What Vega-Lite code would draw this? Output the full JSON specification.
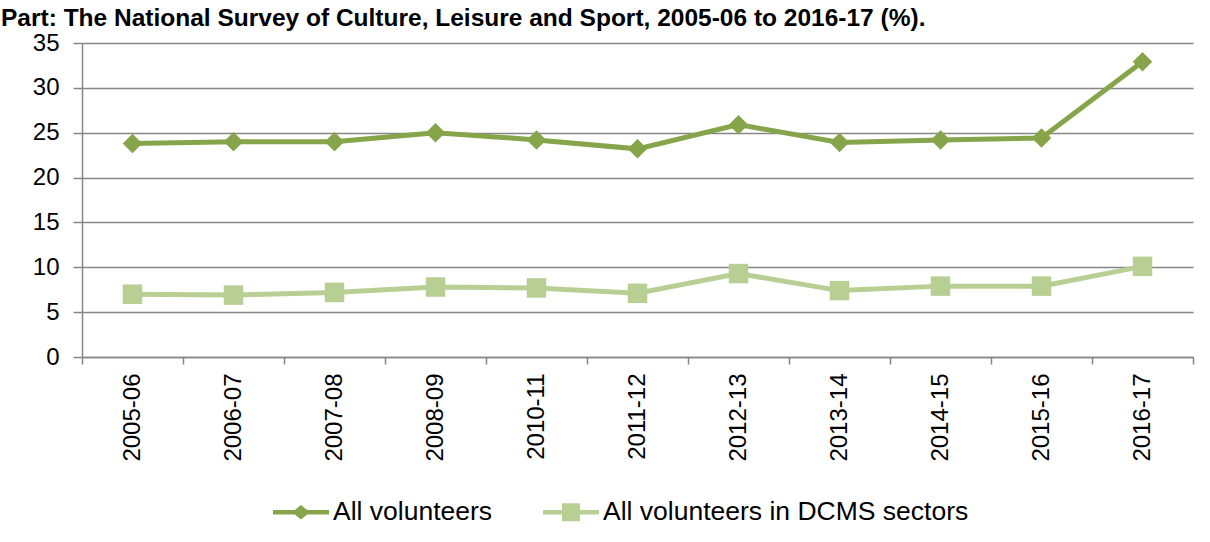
{
  "$schema": "https://vega.github.io/schema/vega-lite/v6.json",
  "width": 1111,
  "height": 314,
  "autosize": {"type": "none"},
  "padding": {"left": 82, "top": 43, "right": 17, "bottom": 185},
  "background": "white",
  "config": {"font": "Liberation Sans", "view": {"stroke": null}},
  "title": {
    "text": "Part: The National Survey of Culture, Leisure and Sport, 2005-06 to 2016-17 (%).",
    "anchor": "start",
    "frame": "group",
    "font": "Liberation Sans",
    "fontSize": 24.5,
    "fontWeight": "bold",
    "color": "black",
    "baseline": "alphabetic",
    "offset": 0,
    "dx": -81,
    "dy": 19
  },
  "data": {
    "values": [
      {"year": "2005-06", "series": "All volunteers", "value": 23.8},
      {"year": "2006-07", "series": "All volunteers", "value": 24.0},
      {"year": "2007-08", "series": "All volunteers", "value": 24.0},
      {"year": "2008-09", "series": "All volunteers", "value": 25.0},
      {"year": "2010-11", "series": "All volunteers", "value": 24.2},
      {"year": "2011-12", "series": "All volunteers", "value": 23.2},
      {"year": "2012-13", "series": "All volunteers", "value": 25.9},
      {"year": "2013-14", "series": "All volunteers", "value": 23.9},
      {"year": "2014-15", "series": "All volunteers", "value": 24.2},
      {"year": "2015-16", "series": "All volunteers", "value": 24.4},
      {"year": "2016-17", "series": "All volunteers", "value": 32.9},
      {"year": "2005-06", "series": "All volunteers in DCMS sectors", "value": 7.0},
      {"year": "2006-07", "series": "All volunteers in DCMS sectors", "value": 6.9},
      {"year": "2007-08", "series": "All volunteers in DCMS sectors", "value": 7.2},
      {"year": "2008-09", "series": "All volunteers in DCMS sectors", "value": 7.8},
      {"year": "2010-11", "series": "All volunteers in DCMS sectors", "value": 7.7},
      {"year": "2011-12", "series": "All volunteers in DCMS sectors", "value": 7.1},
      {"year": "2012-13", "series": "All volunteers in DCMS sectors", "value": 9.3},
      {"year": "2013-14", "series": "All volunteers in DCMS sectors", "value": 7.4},
      {"year": "2014-15", "series": "All volunteers in DCMS sectors", "value": 7.9},
      {"year": "2015-16", "series": "All volunteers in DCMS sectors", "value": 7.9},
      {"year": "2016-17", "series": "All volunteers in DCMS sectors", "value": 10.1}
    ]
  },
  "encoding": {
    "x": {
      "field": "year",
      "type": "ordinal",
      "sort": null,
      "bandPosition": 0.5,
      "scale": {"type": "band", "paddingInner": 0, "paddingOuter": 0},
      "axis": {
        "title": null,
        "labelAngle": -90,
        "labelAlign": "right",
        "labelBaseline": "middle",
        "labelFontSize": 24,
        "labelColor": "black",
        "labelPadding": 9,
        "tickBand": "extent",
        "tickSize": 7,
        "tickColor": "#868686",
        "tickWidth": 1.5,
        "domainColor": "#868686",
        "domainWidth": 1.5,
        "grid": false
      }
    },
    "y": {
      "field": "value",
      "type": "quantitative",
      "scale": {"domain": [0, 35], "nice": false},
      "axis": {
        "title": null,
        "values": [0, 5, 10, 15, 20, 25, 30, 35],
        "labelFontSize": 24,
        "labelColor": "black",
        "labelPadding": 14,
        "tickSize": 9,
        "tickColor": "#868686",
        "tickWidth": 1.5,
        "domainColor": "#868686",
        "domainWidth": 1.5,
        "grid": true,
        "gridColor": "#868686",
        "gridWidth": 1.5
      }
    },
    "color": {
      "field": "series",
      "type": "nominal",
      "scale": {
        "domain": ["All volunteers", "All volunteers in DCMS sectors"],
        "range": ["#86A54A", "#B8CF93"]
      },
      "legend": {
        "title": null,
        "orient": "none",
        "legendX": 191,
        "legendY": 441,
        "direction": "horizontal",
        "labelFontSize": 26.5,
        "labelColor": "black",
        "labelLimit": 0,
        "labelOffset": 4,
        "symbolSize": 3136,
        "symbolOpacity": 1,
        "columnPadding": 50,
        "encode": {
          "symbols": {
            "update": {
              "shape": {"signal": "datum.value === 'All volunteers' ? 'M-1,-0.08L-0.22,-0.08L0,-0.26L0.22,-0.08L1,-0.08L1,0.08L0.22,0.08L0,0.26L-0.22,0.08L-1,0.08Z' : 'M-1,-0.08L-0.32,-0.08L-0.32,-0.32L0.32,-0.32L0.32,-0.08L1,-0.08L1,0.08L0.32,0.08L0.32,0.32L-0.32,0.32L-0.32,0.08L-1,0.08Z'"},
              "fill": {"signal": "datum.value === 'All volunteers' ? '#86A54A' : '#B8CF93'"},
              "stroke": {"value": "transparent"},
              "strokeWidth": {"value": 0},
              "opacity": {"value": 1},
              "size": {"value": 3136}
            }
          }
        }
      }
    }
  },
  "layer": [
    {"mark": {"type": "line", "strokeWidth": 5}},
    {
      "transform": [{"filter": "datum.series === 'All volunteers'"}],
      "mark": {"type": "point", "filled": true, "opacity": 1, "size": 380, "shape": "diamond"}
    },
    {
      "transform": [{"filter": "datum.series === 'All volunteers in DCMS sectors'"}],
      "mark": {"type": "point", "filled": true, "opacity": 1, "size": 380, "shape": "square"}
    }
  ]
}
